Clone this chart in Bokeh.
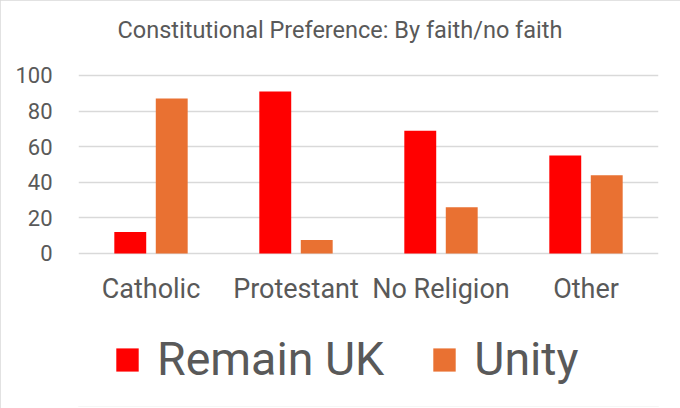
from bokeh.plotting import figure
from bokeh.models import ColumnDataSource, Legend, LegendItem, Label
from bokeh.transform import dodge
from bokeh.embed import file_html
from bokeh.resources import INLINE

categories = ["Catholic", "Protestant", "No Religion", "Other"]
remain_uk = [12, 91, 69, 55]
unity = [87, 7.5, 26, 44]
y_ticks = [0, 20, 40, 60, 80, 100]
title = "Constitutional Preference: By faith/no faith"

RED = "#FF0000"
ORANGE = "#E97132"
TEXT = "#595959"
FONT = "Roboto"

source = ColumnDataSource(dict(cat=categories, remain=remain_uk, unity=unity))

# frame covers nearly the whole canvas so title and legend can sit inside it;
# the category axis is pinned at y=0 and only 0..100 gets ticks/grid
p = figure(x_range=categories, y_range=(-86, 141), width=680, height=408,
           output_backend="svg", toolbar_location=None,
           min_border_left=78, min_border_right=22,
           min_border_top=2, min_border_bottom=2)

p.add_layout(Label(x=39, y=377, x_units="screen", y_units="screen", text=title,
                   text_font=FONT, text_font_size="23.5px", text_color=TEXT,
                   text_baseline="alphabetic"))

r1 = p.vbar(x=dodge("cat", -0.143, range=p.x_range), top="remain", width=0.22,
            source=source, fill_color=RED, line_color=None)
r2 = p.vbar(x=dodge("cat", 0.143, range=p.x_range), top="unity", width=0.22,
            source=source, fill_color=ORANGE, line_color=None)

# axes styled like the office chart: no lines, no ticks, grey labels
for ax in (p.xaxis[0], p.yaxis[0]):
    ax.axis_line_color = None
    ax.major_tick_line_color = None
    ax.minor_tick_line_color = None
    ax.major_label_text_color = TEXT
    ax.major_label_text_font = FONT

p.yaxis.ticker = y_ticks
p.yaxis.major_label_text_font_size = "22px"
p.yaxis.major_label_standoff = 20
p.xaxis.fixed_location = 0
p.xaxis.major_label_text_font_size = "27px"
p.xaxis.major_label_standoff = 14

p.xgrid.grid_line_color = None
p.ygrid.grid_line_color = "#D9D9D9"
p.ygrid.grid_line_width = 1.5
p.outline_line_color = None
p.styles = {"outline": "2px solid #D9D9D9", "outline-offset": "-2px"}

legend = Legend(items=[LegendItem(label="Remain UK", renderers=[r1]),
                       LegendItem(label="Unity", renderers=[r2])],
                orientation="horizontal", location=(35, 20))
legend.label_text_font = FONT
legend.label_text_font_size = "46.5px"
legend.label_text_color = TEXT
legend.glyph_width = 28
legend.glyph_height = 29
legend.label_standoff = 16
legend.spacing = 46
legend.padding = 0
legend.margin = 0
legend.border_line_color = None
legend.background_fill_alpha = 0
p.add_layout(legend, "center")

open("out.html", "w").write(file_html(p, INLINE))
